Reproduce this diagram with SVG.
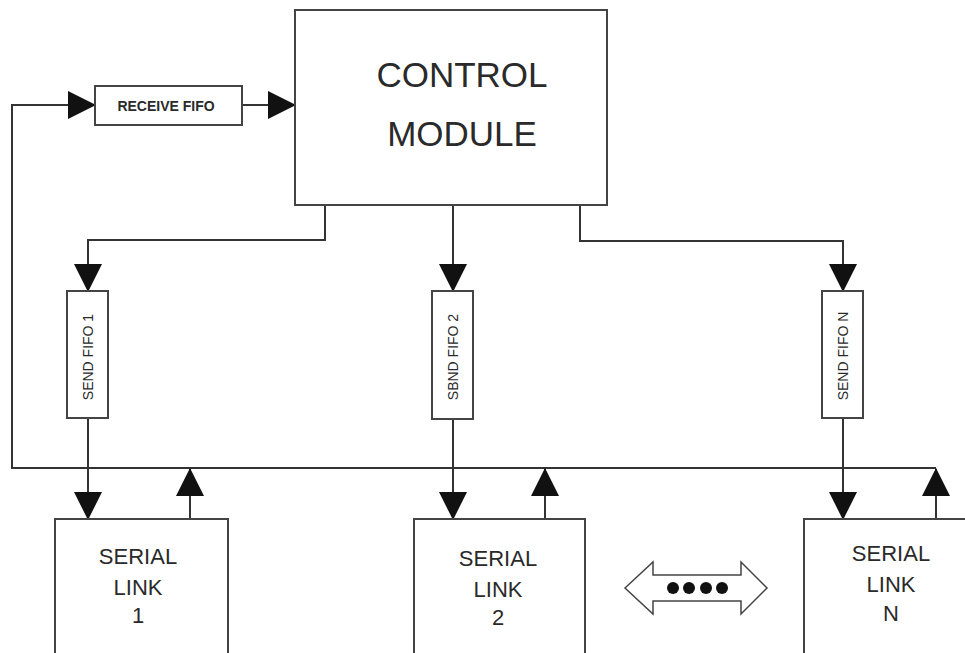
<svg xmlns="http://www.w3.org/2000/svg" width="965" height="653" viewBox="0 0 965 653">
<style>
.box{fill:#fff;stroke:#444;stroke-width:2}
.ln{fill:none;stroke:#333;stroke-width:2}
.t{font-family:"Liberation Sans",Arial,sans-serif;fill:#2a2a2a;text-anchor:middle}
.big{font-size:35px}
.mid{font-size:22px}
.sm{font-size:14px}
.rf{font-size:14px;font-weight:bold}
</style>
<defs>
<marker id="ah" markerUnits="userSpaceOnUse" markerWidth="28" markerHeight="28" refX="27" refY="14" orient="auto" viewBox="0 0 28 28">
<path d="M0,0 L28,14 L0,28 Z" fill="#111"/>
</marker>
</defs>
<rect width="965" height="653" fill="#fff"/>

<g id="connectors">
<path class="ln" d="M936,468 H12 V105 H95" marker-end="url(#ah)"/>
<path class="ln" d="M242,105 H295" marker-end="url(#ah)"/>
<path class="ln" d="M325,205 V240 H88 V291" marker-end="url(#ah)"/>
<path class="ln" d="M453,205 V291" marker-end="url(#ah)"/>
<path class="ln" d="M580,205 V241 H843 V291" marker-end="url(#ah)"/>
<path class="ln" d="M88,418 V519" marker-end="url(#ah)"/>
<path class="ln" d="M453,419 V519" marker-end="url(#ah)"/>
<path class="ln" d="M843,418 V519" marker-end="url(#ah)"/>
<path class="ln" d="M190,519 V469" marker-end="url(#ah)"/>
<path class="ln" d="M545,519 V469" marker-end="url(#ah)"/>
<path class="ln" d="M936,519 V469" marker-end="url(#ah)"/>
</g>

<g id="control-module">
<rect class="box" x="295" y="10" width="312" height="195"/>
<text class="t big" x="462" y="87">CONTROL</text>
<text class="t big" x="462" y="146">MODULE</text>
</g>

<g id="receive-fifo">
<rect class="box" x="95" y="86" width="147" height="39"/>
<text class="t rf" x="166" y="111">RECEIVE FIFO</text>
</g>

<g id="send-fifo-1">
<rect class="box" x="67" y="291" width="41" height="127"/>
<text class="t sm" x="88" y="357" dy="5" transform="rotate(-90 88 357)">SEND FIFO 1</text>
</g>

<g id="send-fifo-2">
<rect class="box" x="432" y="291" width="41" height="128"/>
<text class="t sm" x="453" y="357" dy="5" transform="rotate(-90 453 357)">SBND FIFO 2</text>
</g>

<g id="send-fifo-n">
<rect class="box" x="822" y="291" width="41" height="127"/>
<text class="t sm" x="843" y="356" dy="5" transform="rotate(-90 843 356)">SEND FIFO N</text>
</g>

<g id="serial-link-1">
<rect class="box" x="55" y="519" width="173" height="150"/>
<text class="t mid" x="138" y="564">SERIAL</text>
<text class="t mid" x="138" y="595">LINK</text>
<text class="t mid" x="138" y="623">1</text>
</g>

<g id="serial-link-2">
<rect class="box" x="414" y="519" width="171" height="150"/>
<text class="t mid" x="498" y="566">SERIAL</text>
<text class="t mid" x="498" y="597">LINK</text>
<text class="t mid" x="498" y="625">2</text>
</g>

<g id="serial-link-n">
<rect class="box" x="804" y="519" width="180" height="150"/>
<text class="t mid" x="891" y="561">SERIAL</text>
<text class="t mid" x="891" y="592">LINK</text>
<text class="t mid" x="891" y="621">N</text>
</g>

<g id="ellipsis-arrow">
<polygon points="625,588 653,562 653,575 741,575 741,562 767,588 741,614 741,601 653,601 653,614" fill="#fff" stroke="#444" stroke-width="1.5"/>
<circle cx="673" cy="588" r="6" fill="#111"/>
<circle cx="689" cy="588" r="6" fill="#111"/>
<circle cx="706" cy="588" r="6" fill="#111"/>
<circle cx="722" cy="588" r="6" fill="#111"/>
</g>
</svg>
